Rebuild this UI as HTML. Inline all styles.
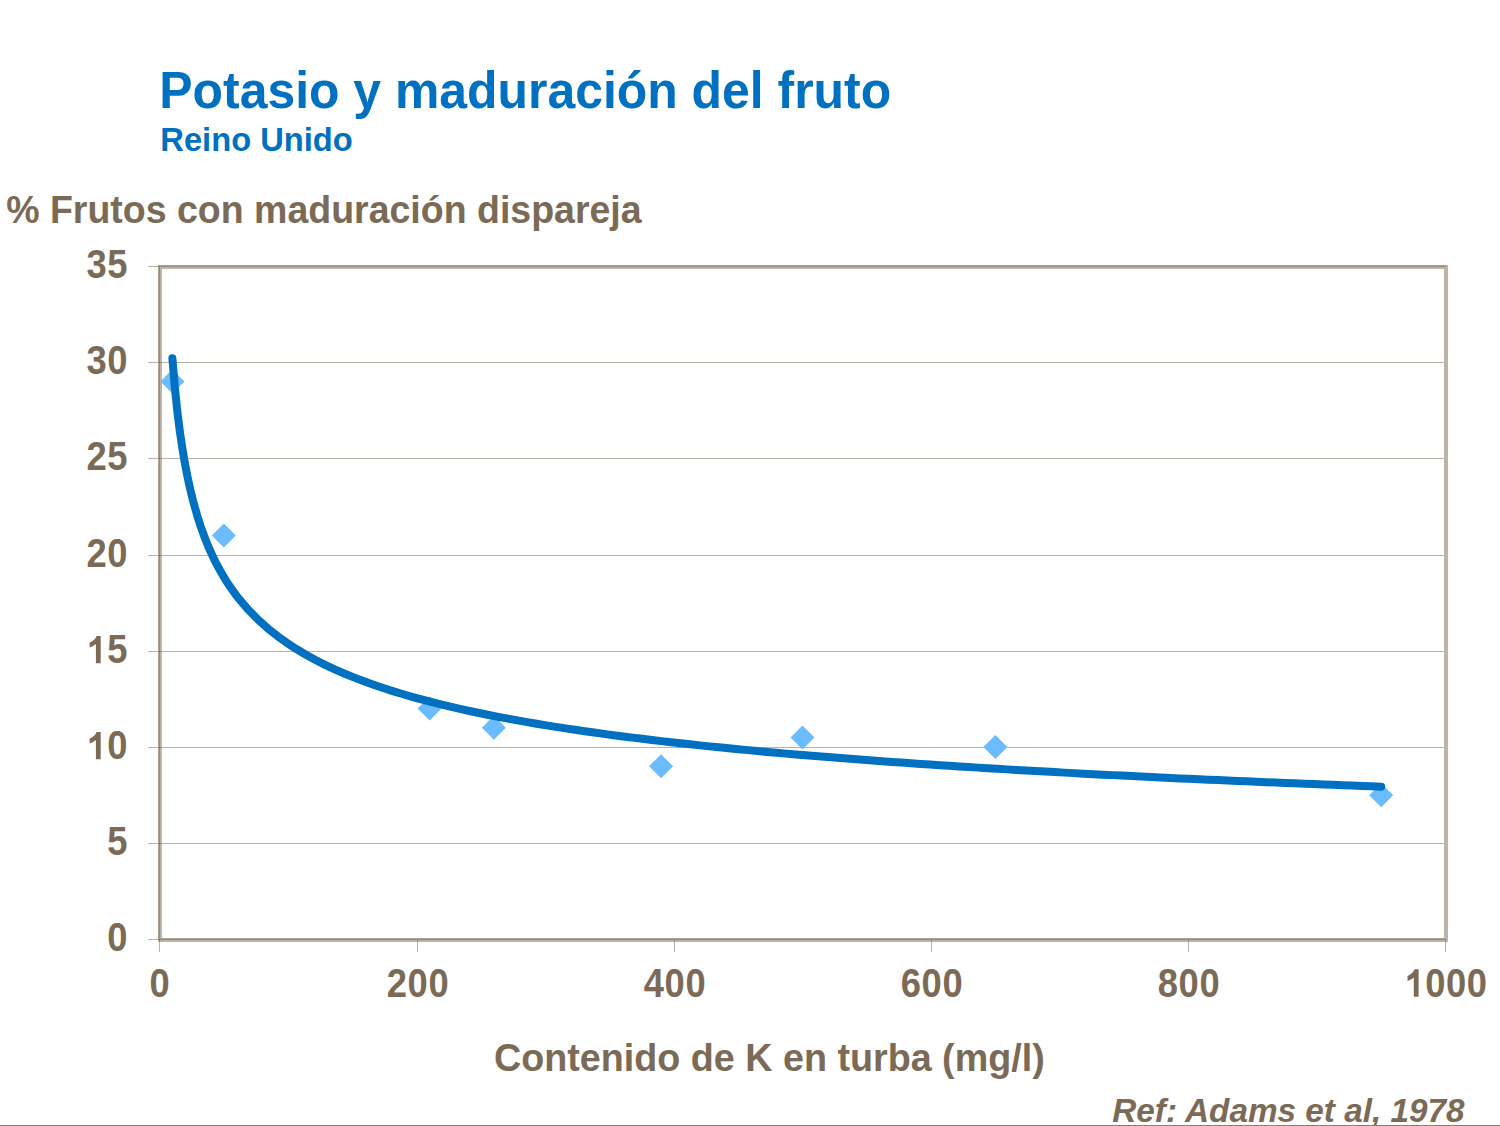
<!DOCTYPE html>
<html><head><meta charset="utf-8"><style>
html,body{margin:0;padding:0;background:#fff;}
body{width:1500px;height:1126px;overflow:hidden;position:relative;}
svg{position:absolute;left:0;top:0;}
text{font-family:"Liberation Sans",sans-serif;font-weight:bold;}
</style></head><body>
<svg width="1500" height="1126" viewBox="0 0 1500 1126">
<rect x="0" y="0" width="1500" height="1126" fill="#fff"/>
<g fill="#0070C0">
<g font-size="49.9"><text transform="translate(159.30 107.80) scale(1.000 1.020)" text-anchor="start" >Potasio y maduración del fruto</text></g>
<g font-size="32.7"><text transform="translate(160.30 150.90) scale(1.000 1.020)" text-anchor="start" >Reino Unido</text></g>
</g>
<g fill="#7B6A56">
<g font-size="37.5"><text transform="translate(6.20 222.90) scale(1.000 1.040)" text-anchor="start" >% Frutos con maduración dispareja</text></g>
<g font-size="37.5"><text transform="translate(117.37 951.30) scale(0.970 1.060)" text-anchor="middle">0</text><text transform="translate(117.37 855.30) scale(0.970 1.060)" text-anchor="middle">5</text><path transform="translate(96.52 759.30) scale(0.01776 -0.01941) translate(-569.5 0)" d="M535 0L805 0L805 1409L575 1409C515 1250 360 1120 182 1066L182 814C320 850 440 920 535 990Z"/><text transform="translate(117.37 759.30) scale(0.970 1.060)" text-anchor="middle">0</text><path transform="translate(96.52 663.30) scale(0.01776 -0.01941) translate(-569.5 0)" d="M535 0L805 0L805 1409L575 1409C515 1250 360 1120 182 1066L182 814C320 850 440 920 535 990Z"/><text transform="translate(117.37 663.30) scale(0.970 1.060)" text-anchor="middle">5</text><text transform="translate(96.52 567.30) scale(0.970 1.060)" text-anchor="middle">2</text><text transform="translate(117.37 567.30) scale(0.970 1.060)" text-anchor="middle">0</text><text transform="translate(96.52 470.30) scale(0.970 1.060)" text-anchor="middle">2</text><text transform="translate(117.37 470.30) scale(0.970 1.060)" text-anchor="middle">5</text><text transform="translate(96.52 374.30) scale(0.970 1.060)" text-anchor="middle">3</text><text transform="translate(117.37 374.30) scale(0.970 1.060)" text-anchor="middle">0</text><text transform="translate(96.52 278.30) scale(0.970 1.060)" text-anchor="middle">3</text><text transform="translate(117.37 278.30) scale(0.970 1.060)" text-anchor="middle">5</text><text transform="translate(159.70 996.70) scale(0.970 1.060)" text-anchor="middle">0</text><text transform="translate(396.84 996.70) scale(0.970 1.060)" text-anchor="middle">2</text><text transform="translate(417.70 996.70) scale(0.970 1.060)" text-anchor="middle">0</text><text transform="translate(438.56 996.70) scale(0.970 1.060)" text-anchor="middle">0</text><text transform="translate(653.84 996.70) scale(0.970 1.060)" text-anchor="middle">4</text><text transform="translate(674.70 996.70) scale(0.970 1.060)" text-anchor="middle">0</text><text transform="translate(695.56 996.70) scale(0.970 1.060)" text-anchor="middle">0</text><text transform="translate(910.84 996.70) scale(0.970 1.060)" text-anchor="middle">6</text><text transform="translate(931.70 996.70) scale(0.970 1.060)" text-anchor="middle">0</text><text transform="translate(952.56 996.70) scale(0.970 1.060)" text-anchor="middle">0</text><text transform="translate(1167.84 996.70) scale(0.970 1.060)" text-anchor="middle">8</text><text transform="translate(1188.70 996.70) scale(0.970 1.060)" text-anchor="middle">0</text><text transform="translate(1209.56 996.70) scale(0.970 1.060)" text-anchor="middle">0</text><path transform="translate(1414.42 996.70) scale(0.01776 -0.01941) translate(-569.5 0)" d="M535 0L805 0L805 1409L575 1409C515 1250 360 1120 182 1066L182 814C320 850 440 920 535 990Z"/><text transform="translate(1435.27 996.70) scale(0.970 1.060)" text-anchor="middle">0</text><text transform="translate(1456.13 996.70) scale(0.970 1.060)" text-anchor="middle">0</text><text transform="translate(1476.98 996.70) scale(0.970 1.060)" text-anchor="middle">0</text></g>
<g font-size="37.7"><text transform="translate(494.00 1071.20) scale(1.000 1.040)" text-anchor="start" >Contenido de K en turba (mg/l)</text></g>
<g font-size="33.3" font-style="italic"><text transform="translate(1112.30 1121.70) scale(1.000 1.020)" text-anchor="start" >Ref: Adams et al, 1978</text></g>
</g>
<rect x="160" y="267" width="1286" height="673" fill="none" stroke="#BDB4A9" stroke-width="4"/>
<g stroke="#9B8B7A" stroke-width="1.5">
<line x1="158" x2="1446" y1="266.25" y2="266.25"/>
<line x1="159.25" x2="159.25" y1="265" y2="941"/>
<line x1="158" x2="1446" y1="939.25" y2="939.25"/>
</g>
<g stroke="rgba(110,92,72,0.48)" stroke-width="1"><line x1="158.5" x2="1444" y1="843.5" y2="843.5"/><line x1="158.5" x2="1444" y1="747.5" y2="747.5"/><line x1="158.5" x2="1444" y1="651.5" y2="651.5"/><line x1="158.5" x2="1444" y1="555.5" y2="555.5"/><line x1="158.5" x2="1444" y1="458.5" y2="458.5"/><line x1="158.5" x2="1444" y1="362.5" y2="362.5"/><line x1="148" x2="158.5" y1="939.5" y2="939.5"/><line x1="148" x2="158.5" y1="843.5" y2="843.5"/><line x1="148" x2="158.5" y1="747.5" y2="747.5"/><line x1="148" x2="158.5" y1="651.5" y2="651.5"/><line x1="148" x2="158.5" y1="555.5" y2="555.5"/><line x1="148" x2="158.5" y1="458.5" y2="458.5"/><line x1="148" x2="158.5" y1="362.5" y2="362.5"/><line x1="148" x2="158.5" y1="266.5" y2="266.5"/><line y1="940" y2="952" x1="159.5" x2="159.5"/><line y1="940" y2="952" x1="417.5" x2="417.5"/><line y1="940" y2="952" x1="674.5" x2="674.5"/><line y1="940" y2="952" x1="931.5" x2="931.5"/><line y1="940" y2="952" x1="1188.5" x2="1188.5"/><line y1="940" y2="952" x1="1445.5" x2="1445.5"/></g>
<g fill="#6BBCFE"><path d="M172.36 369.45l12 12l-12 12l-12 -12z"/><path d="M223.80 523.40l12 12l-12 12l-12 -12z"/><path d="M429.56 696.58l12 12l-12 12l-12 -12z"/><path d="M493.86 715.83l12 12l-12 12l-12 -12z"/><path d="M661.04 754.31l12 12l-12 12l-12 -12z"/><path d="M802.50 725.45l12 12l-12 12l-12 -12z"/><path d="M995.40 735.07l12 12l-12 12l-12 -12z"/><path d="M1381.20 783.18l12 12l-12 12l-12 -12z"/></g>
<polyline points="172.36,358.16 174.93,388.44 177.50,412.81 180.08,433.05 182.65,450.25 185.22,465.14 187.79,478.22 190.36,489.85 192.94,500.29 195.51,509.73 198.08,518.34 200.65,526.24 203.22,533.53 205.80,540.28 208.37,546.56 210.94,552.43 213.51,557.93 216.08,563.11 218.66,567.98 221.23,572.59 223.80,576.96 226.37,581.11 228.94,585.06 231.52,588.82 234.09,592.41 236.66,595.84 239.23,599.13 248.83,610.30 258.42,620.01 268.02,628.57 277.62,636.20 287.21,643.07 296.81,649.31 306.41,655.00 316.00,660.24 325.60,665.07 335.20,669.56 344.79,673.73 354.39,677.64 363.98,681.31 373.58,684.76 383.18,688.02 392.77,691.10 402.37,694.02 411.97,696.79 421.56,699.43 431.16,701.95 440.76,704.36 450.35,706.66 459.95,708.87 469.54,710.99 479.14,713.02 488.74,714.98 498.33,716.87 507.93,718.68 517.53,720.44 527.12,722.13 536.72,723.77 546.32,725.35 555.91,726.88 565.51,728.37 575.10,729.81 584.70,731.21 594.30,732.57 603.89,733.89 613.49,735.18 623.09,736.43 632.68,737.65 642.28,738.83 651.88,739.99 661.47,741.11 671.07,742.21 680.67,743.29 690.26,744.33 699.86,745.36 709.45,746.36 719.05,747.33 728.65,748.29 738.24,749.23 747.84,750.14 757.44,751.04 767.03,751.92 776.63,752.78 786.23,753.62 795.82,754.45 805.42,755.26 815.01,756.05 824.61,756.83 834.21,757.60 843.80,758.35 853.40,759.09 863.00,759.82 872.59,760.53 882.19,761.23 891.79,761.92 901.38,762.60 910.98,763.26 920.57,763.92 930.17,764.56 939.77,765.20 949.36,765.82 958.96,766.43 968.56,767.04 978.15,767.63 987.75,768.22 997.35,768.80 1006.94,769.37 1016.54,769.93 1026.13,770.48 1035.73,771.03 1045.33,771.56 1054.92,772.09 1064.52,772.62 1074.12,773.13 1083.71,773.64 1093.31,774.14 1102.91,774.64 1112.50,775.13 1122.10,775.61 1131.69,776.09 1141.29,776.56 1150.89,777.02 1160.48,777.48 1170.08,777.93 1179.68,778.38 1189.27,778.82 1198.87,779.26 1208.47,779.69 1218.06,780.12 1227.66,780.54 1237.25,780.95 1246.85,781.37 1256.45,781.77 1266.04,782.18 1275.64,782.57 1285.24,782.97 1294.83,783.36 1304.43,783.74 1314.03,784.12 1323.62,784.50 1333.22,784.87 1342.81,785.24 1352.41,785.61 1362.01,785.97 1371.60,786.33 1381.20,786.68" fill="none" stroke="#0070C0" stroke-width="8" stroke-linecap="round" stroke-linejoin="round"/>
<line x1="0" x2="1500" y1="1125.5" y2="1125.5" stroke="#7F7F7F" stroke-width="1"/>
</svg>
</body></html>
